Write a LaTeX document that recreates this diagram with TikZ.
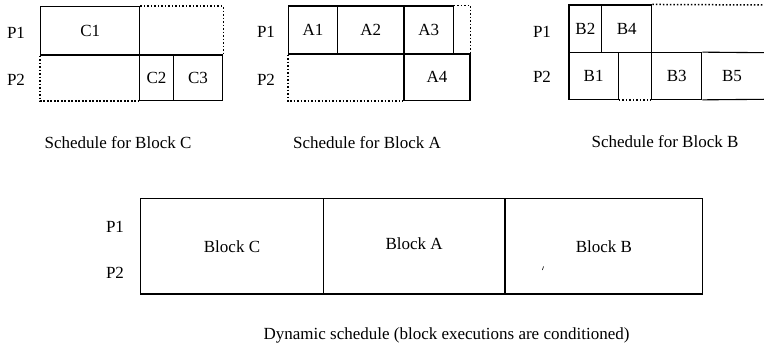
\documentclass[tikz,border=0pt]{standalone}
\usepackage{fontspec}
\setmainfont{Liberation Serif}
\usetikzlibrary{fit}
\begin{document}
\begin{tikzpicture}[x=1pt,y=-1pt,
  cell/.style={draw,line width=1.1pt,inner sep=0pt},
  lbl/.style={inner sep=0pt,font=\fontsize{17}{20}\selectfont},
  dotline/.style={line width=1.5pt,dash pattern=on 1.6pt off 1.9pt},
  solidline/.style={line width=1.1pt}]
\useasboundingbox (0,0) rectangle (764,347);
% ---- Block C schedule
\node[lbl] (cp1) at (16,33) {P1};
\node[lbl] (cp2) at (16,80) {P2};
\node[cell,fit={(40.7,6.7) (139.7,55)},label={[lbl]center:C1}] (C1) {};
\node[cell,fit={(139.7,55) (173.3,100.7)},label={[lbl]center:C2}] (C2) {};
\node[cell,fit={(173.3,55) (222.7,100.7)},label={[lbl]center:C3}] (C3) {};
\draw[dotline] (C1.north east) -- (C3.north east |- C1.north) -- (C3.north east);
\draw[dotline] (C1.south west) -- (C1.west |- C2.south) -- (C2.south west);
\node[lbl] (capC) at (118,143) {Schedule for Block C};
% ---- Block A schedule
\node[lbl] (ap1) at (266,32) {P1};
\node[lbl] (ap2) at (266,80) {P2};
\node[cell,fit={(288.3,6) (337.7,54)},label={[lbl]center:A1}] (A1) {};
\node[cell,fit={(337.7,6) (404,54)},label={[lbl]center:A2}] (A2) {};
\node[cell,fit={(404,6) (453.3,54)},label={[lbl]center:A3}] (A3) {};
\node[cell,fit={(404,54) (470,100.7)},label={[lbl]center:A4}] (A4) {};
\draw[dotline] (A3.north east) -- (A4.east |- A3.north) -- (A4.north east);
\draw[dotline] (A1.south west) -- (A1.west |- A4.south) -- (A4.south west);
\node[lbl] (capA) at (367,143) {Schedule for Block A};
% ---- Block B schedule
\node[lbl] (bp1) at (542,32) {P1};
\node[lbl] (bp2) at (542,77) {P2};
\node[cell,fit={(569,5) (601.7,52.7)},label={[lbl]center:B2}] (B2) {};
\node[cell,fit={(601.7,5) (651.7,52.7)},label={[lbl]center:B4}] (B4) {};
\node[cell,fit={(569,52.7) (618.3,99.3)},label={[lbl]center:B1}] (B1) {};
\node[cell,fit={(651.7,52.7) (701.7,99.3)},label={[lbl]center:B3}] (B3) {};
\coordinate (bR1) at (764,52.7);
\coordinate (bR2) at (764,99.3);
\coordinate (bR0) at (764,5);
\node[lbl] (B5) at (732,76) {B5};
\draw[solidline] (B3.north east) -- (bR1);
\draw[solidline] (B3.south east) -- (bR2);
\draw[dotline] (B1.south east) -- (B3.south west);
\draw[dotline] (B4.north east) -- (bR0);
\node[lbl] (capB) at (665,142) {Schedule for Block B};
% ---- Dynamic schedule
\node[lbl] (dp1) at (115,227) {P1};
\node[lbl] (dp2) at (115,273) {P2};
\node[cell,fit={(140.7,198.5) (323.3,294)},label={[lbl]center:Block C}] (BC) {};
\node[cell,fit={(323.3,198.5) (505,294)},label={[lbl,yshift=3pt]center:Block A}] (BA) {};
\node[cell,fit={(505,198.5) (702.7,294)},label={[lbl]center:Block B}] (BB) {};
\draw[line width=0.6pt] (542.3,270) -- (543.6,266.5);
\node[lbl] (capD) at (446.5,335) {Dynamic schedule (block executions are conditioned)};
\end{tikzpicture}
\end{document}
